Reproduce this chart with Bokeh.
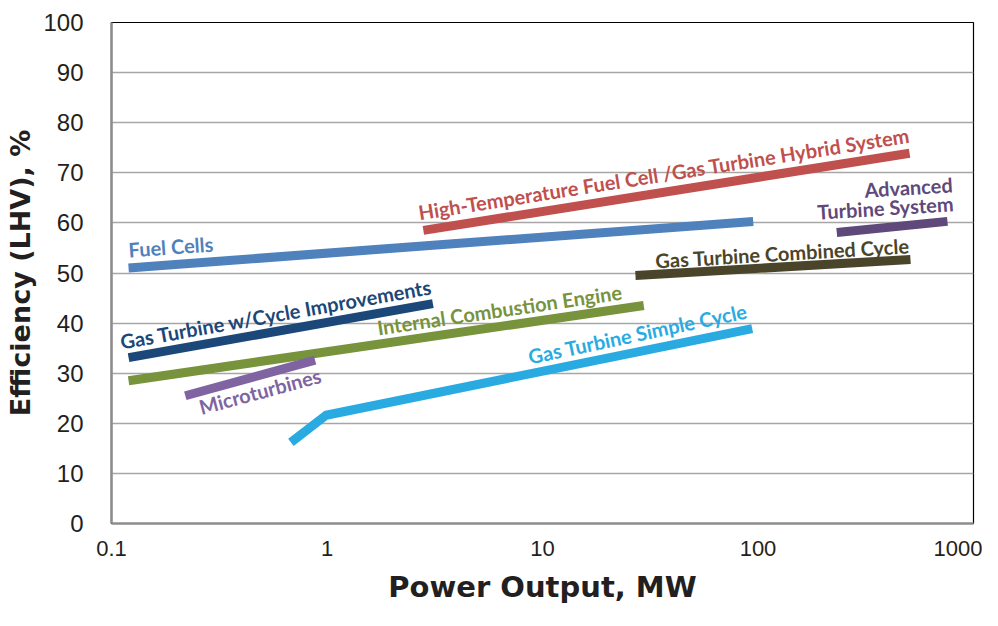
from bokeh.plotting import figure
from bokeh.models import Range1d, FixedTicker
from bokeh.core.properties import value
from bokeh.embed import file_html
from bokeh.resources import INLINE
import math

# ---- data ----
x_ticks = [0.1, 1, 10, 100, 1000]
x_tick_labels = ["0.1", "1", "10", "100", "1000"]
y_ticks = [0, 10, 20, 30, 40, 50, 60, 70, 80, 90, 100]

fuel_cells_x = [0.12, 95]
fuel_cells_y = [51.0, 60.3]

hybrid_x = [2.8, 505]
hybrid_y = [58.5, 73.9]

ats_x = [232, 757]
ats_y = [58.1, 60.3]

gtcc_x = [27, 510]
gtcc_y = [49.5, 52.7]

gt_cycle_x = [0.12, 3.1]
gt_cycle_y = [33.1, 43.9]

ice_x = [0.12, 29.5]
ice_y = [28.5, 43.5]

micro_x = [0.22, 0.88]
micro_y = [25.5, 32.6]

gt_simple_x = [0.68, 0.99, 94]
gt_simple_y = [16.2, 21.6, 38.9]

series = [
    ("Fuel Cells", fuel_cells_x, fuel_cells_y, "#4F81BD"),
    ("High-Temperature Fuel Cell /Gas Turbine Hybrid System", hybrid_x, hybrid_y, "#C0504D"),
    ("Advanced Turbine System", ats_x, ats_y, "#5F497A"),
    ("Gas Turbine Combined Cycle", gtcc_x, gtcc_y, "#4A452A"),
    ("Gas Turbine w/Cycle Improvements", gt_cycle_x, gt_cycle_y, "#1B4878"),
    ("Internal Combustion Engine", ice_x, ice_y, "#77933C"),
    ("Microturbines", micro_x, micro_y, "#8064A2"),
    ("Gas Turbine Simple Cycle", gt_simple_x, gt_simple_y, "#29ABE2"),
]

# label placement: (text, x, y, angle_deg, align, color)
labels = [
    ("Fuel Cells", 0.12, 54.7, 4.0, "left", "#4F81BD"),
    ("High-Temperature Fuel Cell /Gas Turbine Hybrid System", 2.66, 62.1, 9.0, "left", "#C0504D"),
    ("Advanced", 799, 67.7, 3.5, "right", "#5F497A"),
    ("Turbine System", 807, 63.9, 3.5, "right", "#5F497A"),
    ("Gas Turbine Combined Cycle", 33.4, 52.5, 3.4, "left", "#4A452A"),
    ("Gas Turbine w/Cycle Improvements", 0.110, 36.3, 10.1, "left", "#1B4878"),
    ("Internal Combustion Engine", 1.71, 39.1, 8.4, "left", "#77933C"),
    ("Microturbines", 0.256, 23.2, 15.0, "left", "#8064A2"),
    ("Gas Turbine Simple Cycle", 8.6, 33.3, 12.0, "left", "#29ABE2"),
]

p = figure(width=982, height=610, x_axis_type="log",
           x_range=Range1d(0.1, 1000), y_range=Range1d(0, 100),
           output_backend="svg", toolbar_location=None,
           min_border_left=111, min_border_right=9,
           min_border_top=22, min_border_bottom=87)

p.background_fill_color = "white"
p.border_fill_color = "white"
p.outline_line_color = "#000000"
p.outline_line_width = 1.2

p.xgrid.visible = False
p.ygrid.ticker = FixedTicker(ticks=y_ticks)
p.ygrid.grid_line_color = "#A6A6A6"
p.ygrid.grid_line_width = 1.5

p.xaxis.ticker = FixedTicker(ticks=x_ticks)
p.xaxis.major_label_overrides = dict(zip(x_ticks, x_tick_labels))
p.yaxis.ticker = FixedTicker(ticks=y_ticks)

for ax in (p.xaxis[0], p.yaxis[0]):
    ax.axis_line_color = "#8C8C8C"
    ax.axis_line_width = 2.5
    ax.major_tick_line_color = None
    ax.minor_tick_line_color = None
    ax.major_tick_out = 0
    ax.major_tick_in = 0
    ax.major_label_text_font = "Liberation Sans"
    ax.major_label_text_color = "#231F20"
    ax.axis_label_text_font = "DejaVu Sans"
    ax.axis_label_text_font_style = "bold"
    ax.axis_label_text_color = "#231F20"

p.yaxis.major_label_text_font_size = "24px"
p.xaxis.major_label_text_font_size = "22px"
p.yaxis.axis_label_text_font_size = "27px"
p.xaxis.axis_label_text_font_size = "29px"

p.yaxis.major_label_standoff = 28
p.yaxis.axis_label = "Efficiency (LHV), %"
p.yaxis.axis_label_standoff = 4
p.xaxis.major_label_standoff = 17
p.xaxis.axis_label = "Power Output, MW"
p.xaxis.axis_label_standoff = 11

for name, xs, ys, color in series:
    p.line(xs, ys, line_color=color, line_width=9, line_cap="butt", line_join="round")

for text, x, y, ang, align, color in labels:
    p.text(x=[x], y=[y], text=[text], angle=math.radians(ang),
           text_align=align, text_baseline="alphabetic",
           text_font=value("Lato"), text_font_style="bold",
           text_font_size="20px", text_color=color)

open("out.html", "w").write(file_html(p, INLINE))
